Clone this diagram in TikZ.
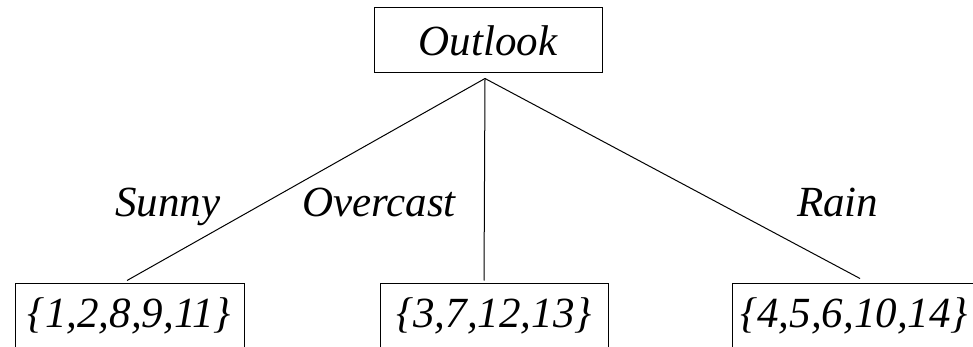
\documentclass[tikz,border=0pt]{standalone}
\usepackage{fontspec}
\setmainfont{Liberation Serif}[ItalicFont={Liberation Serif Italic}]
\usetikzlibrary{calc}

\begin{document}
\begin{tikzpicture}[x=1pt, y=-1pt,
  every node/.style={font=\fontsize{43}{50}\selectfont\rmfamily\itshape},
  attrbox/.style={draw, line width=1pt, minimum height=65pt, inner sep=0pt},
  branch/.style={anchor=base west, inner sep=0pt},
  edge/.style={line width=1pt}]
\useasboundingbox (0,0) rectangle (973,347);
\clip (0,0) rectangle (973,347);
\node[attrbox, minimum width=228pt] (o) at (488,40.5) {Outlook};
\node[attrbox, minimum width=229pt] (s) at (129.5,315.5) {\{1,2,8,9,11\}};
\node[attrbox, minimum width=228pt] (m) at (494,315.5) {\{3,7,12,13\}};
\node[attrbox, minimum width=244pt] (r) at (854,315.5) {\{4,5,6,10,14\}};
\draw[edge] ([shift={(-3,5)}]o.south) -- ([shift={(-2.5,-2)}]s.north);
\draw[edge] ([shift={(-3,5)}]o.south) -- ([shift={(-10,-2)}]m.north);
\draw[edge] ([shift={(-3,5)}]o.south) -- ([shift={(6,-4)}]r.north);
\node[branch] (sl) at (115,216) {Sunny};
\node[branch] (ml) at (302,216) {Overcast};
\node[branch] (rl) at (797,216) {Rain};
\end{tikzpicture}
\end{document}
